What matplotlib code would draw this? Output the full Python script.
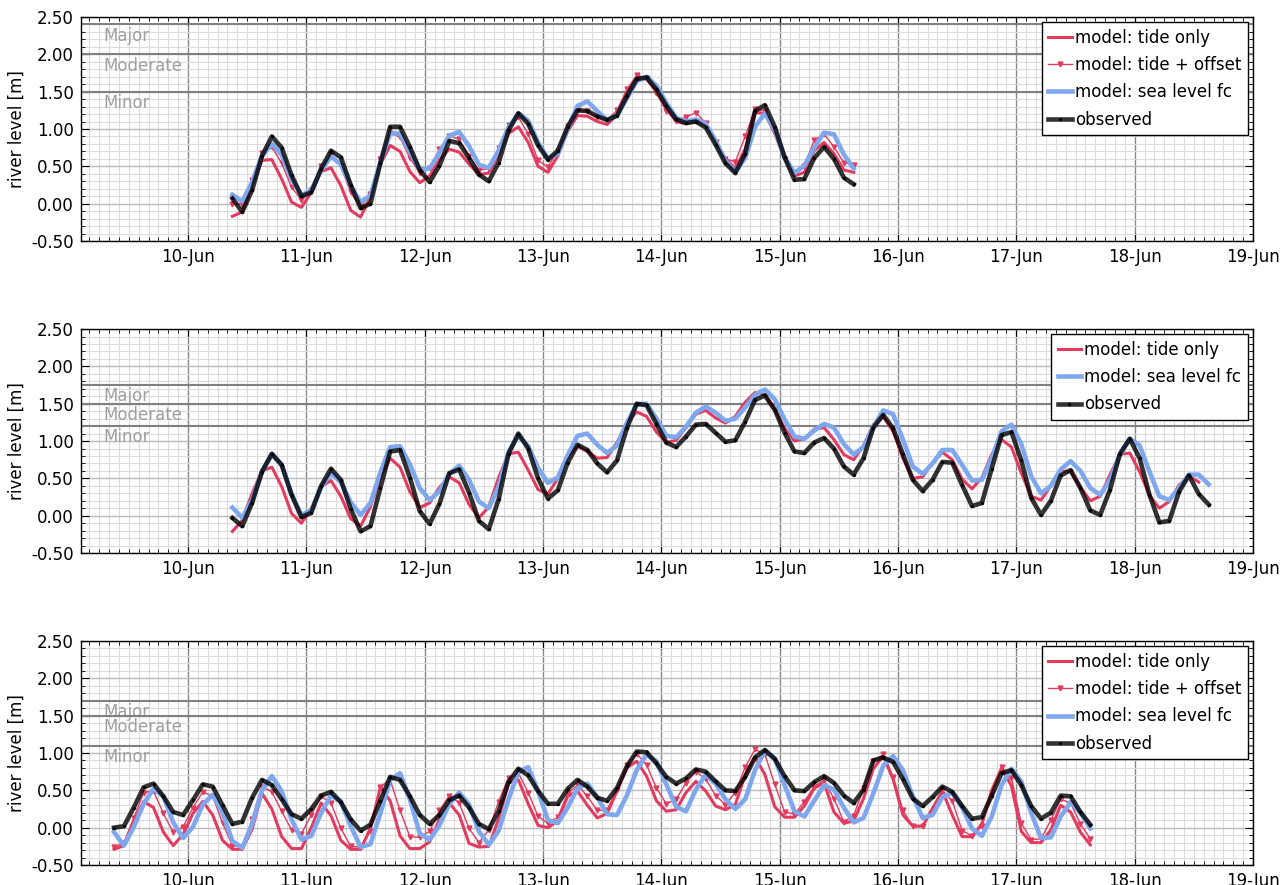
import numpy as np
import pandas as pd
import matplotlib
matplotlib.use('Agg')
import matplotlib.pyplot as plt
import matplotlib.dates as mdates
from matplotlib.ticker import MultipleLocator, FormatStrFormatter

base = pd.Timestamp('2021-06-10 00:00')

# ---- panel 1 (2-hourly, first value at 10-Jun 09:00)
p1_start = 9
p1_tide = [-0.17, -0.11, 0.25, 0.58, 0.59, 0.33, 0.02, -0.05, 0.15, 0.43, 0.48, 0.24, -0.09, -0.18, 0.09, 0.53,
           0.78, 0.70, 0.43, 0.28, 0.37, 0.59, 0.73, 0.69, 0.53, 0.39, 0.41, 0.66, 0.94, 1.03, 0.82, 0.50,
           0.42, 0.64, 0.97, 1.18, 1.17, 1.10, 1.06, 1.19, 1.48, 1.68, 1.67, 1.50, 1.28, 1.10, 1.07, 1.10,
           1.05, 0.84, 0.60, 0.47, 0.73, 1.22, 1.21, 0.94, 0.60, 0.37, 0.42, 0.71, 0.82, 0.67, 0.45, 0.42]
p1_offset = [-0.01, 0.00, 0.32, 0.68, 0.76, 0.54, 0.22, 0.05, 0.18, 0.50, 0.66, 0.50, 0.15, -0.05, 0.13, 0.60,
             0.95, 0.89, 0.61, 0.41, 0.48, 0.73, 0.91, 0.86, 0.64, 0.45, 0.47, 0.75, 1.06, 1.16, 0.93, 0.58,
             0.49, 0.71, 1.04, 1.25, 1.24, 1.16, 1.12, 1.25, 1.53, 1.72, 1.68, 1.48, 1.24, 1.11, 1.16, 1.22,
             1.08, 0.82, 0.60, 0.56, 0.90, 1.27, 1.24, 0.96, 0.60, 0.40, 0.51, 0.85, 0.93, 0.76, 0.55, 0.52]
p1_sea = [0.12, 0.03, 0.29, 0.64, 0.80, 0.65, 0.33, 0.11, 0.18, 0.45, 0.63, 0.53, 0.24, 0.02, 0.11, 0.55,
          0.94, 0.94, 0.69, 0.46, 0.47, 0.68, 0.91, 0.96, 0.77, 0.52, 0.48, 0.71, 1.02, 1.21, 1.11, 0.82,
          0.60, 0.67, 1.00, 1.31, 1.37, 1.24, 1.12, 1.18, 1.41, 1.64, 1.70, 1.58, 1.35, 1.15, 1.10, 1.13,
          1.07, 0.84, 0.57, 0.43, 0.61, 1.03, 1.21, 0.99, 0.62, 0.41, 0.51, 0.75, 0.95, 0.93, 0.66, 0.47]
p1_obs = [0.07, -0.11, 0.18, 0.64, 0.90, 0.75, 0.38, 0.10, 0.15, 0.47, 0.71, 0.62, 0.25, -0.06, 0.00, 0.54,
          1.03, 1.03, 0.76, 0.45, 0.29, 0.51, 0.84, 0.81, 0.61, 0.39, 0.30, 0.55, 0.98, 1.21, 1.07, 0.78,
          0.59, 0.71, 1.03, 1.25, 1.24, 1.17, 1.12, 1.18, 1.44, 1.67, 1.69, 1.53, 1.31, 1.13, 1.08, 1.10,
          1.02, 0.79, 0.54, 0.41, 0.67, 1.24, 1.32, 1.03, 0.62, 0.32, 0.33, 0.61, 0.76, 0.60, 0.35, 0.26]
p1_levels = [2.40, 2.00, 1.50]

# ---- panel 2 (2-hourly, first value at 10-Jun 09:00)
p2_start = 9
p2_tide = [-0.21, -0.06, 0.30, 0.60, 0.65, 0.39, 0.03, -0.10, 0.10, 0.39,
           0.47, 0.26, -0.04, -0.14, 0.12, 0.52, 0.77, 0.65, 0.32, 0.11,
           0.17, 0.38, 0.52, 0.44, 0.15, -0.03, 0.12, 0.51, 0.83, 0.85,
           0.61, 0.35, 0.29, 0.50, 0.80, 0.93, 0.86, 0.77, 0.78, 0.98,
           1.24, 1.39, 1.33, 1.12, 0.98, 1.01, 1.18, 1.36, 1.41, 1.31,
           1.24, 1.33, 1.52, 1.65, 1.62, 1.42, 1.17, 1.00, 1.03, 1.16,
           1.18, 1.02, 0.82, 0.75, 0.94, 1.22, 1.33, 1.13, 0.77, 0.50,
           0.52, 0.71, 0.85, 0.75, 0.49, 0.36, 0.51, 0.82, 1.02, 0.92,
           0.57, 0.26, 0.21, 0.40, 0.60, 0.59, 0.38, 0.20, 0.26, 0.55,
           0.82, 0.84, 0.59, 0.27, 0.10, 0.19, 0.41, 0.53, 0.45, np.nan]
p2_sea = [0.11, -0.03, 0.21, 0.59, 0.82, 0.68, 0.29, 0.01, 0.07, 0.38,
          0.57, 0.45, 0.18, 0.01, 0.17, 0.58, 0.92, 0.93, 0.69, 0.37,
          0.21, 0.33, 0.56, 0.67, 0.48, 0.19, 0.10, 0.39, 0.85, 1.07,
          0.93, 0.64, 0.44, 0.51, 0.81, 1.07, 1.10, 0.95, 0.84, 0.94,
          1.24, 1.49, 1.50, 1.30, 1.07, 1.05, 1.19, 1.38, 1.46, 1.38,
          1.27, 1.30, 1.45, 1.62, 1.69, 1.56, 1.29, 1.06, 1.03, 1.14,
          1.23, 1.18, 0.96, 0.82, 0.92, 1.19, 1.41, 1.36, 1.02, 0.66,
          0.56, 0.70, 0.88, 0.88, 0.68, 0.47, 0.48, 0.77, 1.13, 1.22,
          0.96, 0.53, 0.30, 0.40, 0.62, 0.73, 0.60, 0.37, 0.28, 0.48,
          0.81, 1.03, 0.94, 0.59, 0.26, 0.21, 0.37, 0.55, 0.55, 0.42]
p2_obs = [-0.03, -0.14, 0.17, 0.59, 0.83, 0.68, 0.28, -0.02, 0.04, 0.40,
          0.63, 0.48, 0.09, -0.21, -0.14, 0.37, 0.86, 0.88, 0.51, 0.06,
          -0.11, 0.16, 0.57, 0.62, 0.31, -0.07, -0.18, 0.22, 0.83, 1.10,
          0.90, 0.50, 0.23, 0.34, 0.71, 0.95, 0.88, 0.70, 0.58, 0.74,
          1.17, 1.50, 1.48, 1.23, 0.98, 0.92, 1.06, 1.22, 1.23, 1.11,
          0.99, 1.01, 1.26, 1.55, 1.61, 1.42, 1.11, 0.86, 0.84, 0.98,
          1.04, 0.90, 0.66, 0.55, 0.77, 1.18, 1.35, 1.17, 0.82, 0.48,
          0.33, 0.48, 0.72, 0.71, 0.41, 0.13, 0.17, 0.63, 1.08, 1.12,
          0.74, 0.24, 0.01, 0.20, 0.54, 0.61, 0.37, 0.07, 0.01, 0.35,
          0.83, 1.03, 0.77, 0.28, -0.09, -0.07, 0.32, 0.54, 0.29, 0.15]
p2_levels = [1.75, 1.50, 1.20]

# ---- panel 3 (2-hourly, first value at 09-Jun 09:00)
p3_start = -15
p3_tide = [-0.29, -0.24, 0.08, 0.35, 0.27, -0.06, -0.24, -0.09, 0.19, 0.35,
           0.17, -0.17, -0.29, -0.29, -0.02, 0.46, 0.25, -0.12, -0.28, -0.28,
           0.00, 0.33, 0.16, -0.17, -0.29, -0.29, -0.01, 0.54, 0.36, -0.11,
           -0.28, -0.28, -0.19, 0.11, 0.33, 0.17, -0.21, -0.26, -0.25, 0.12,
           0.60, 0.64, 0.32, 0.03, 0.00, 0.09, 0.42, 0.49, 0.30, 0.13,
           0.19, 0.49, 0.80, 0.89, 0.69, 0.36, 0.22, 0.24, 0.47, 0.62,
           0.49, 0.29, 0.24, 0.31, 0.71, 0.95, 0.71, 0.28, 0.14, 0.14,
           0.29, 0.53, 0.60, 0.21, 0.06, 0.09, 0.39, 0.79, 0.96, 0.65,
           0.17, 0.02, 0.02, 0.26, 0.49, 0.17, -0.12, -0.12, 0.05, 0.50,
           0.80, 0.56, -0.05, -0.20, -0.20, -0.03, 0.30, 0.21, -0.06, -0.23]
p3_offset = [-0.26, -0.20, 0.13, 0.47, 0.49, 0.19, -0.06, 0.01, 0.27, 0.48,
             0.42, 0.06, -0.24, -0.26, 0.12, 0.55, 0.48, 0.22, -0.03, -0.08,
             0.17, 0.42, 0.33, -0.01, -0.25, -0.26, -0.04, 0.55, 0.64, 0.23,
             -0.12, -0.13, -0.05, 0.23, 0.43, 0.33, -0.01, -0.20, -0.03, 0.35,
             0.67, 0.73, 0.47, 0.15, 0.06, 0.14, 0.46, 0.57, 0.42, 0.23,
             0.24, 0.51, 0.84, 0.99, 0.84, 0.53, 0.32, 0.38, 0.60, 0.75,
             0.65, 0.43, 0.31, 0.47, 0.81, 1.05, 0.98, 0.58, 0.21, 0.18,
             0.35, 0.55, 0.64, 0.39, 0.08, 0.16, 0.53, 0.89, 0.98, 0.68,
             0.23, 0.02, 0.02, 0.22, 0.50, 0.36, -0.04, -0.11, 0.02, 0.46,
             0.81, 0.67, 0.06, -0.16, -0.15, 0.10, 0.38, 0.33, 0.05, -0.15]
p3_sea = [-0.06, -0.24, 0.01, 0.32, 0.52, 0.42, 0.07, -0.14, 0.01, 0.31,
          0.44, 0.20, -0.18, -0.27, 0.05, 0.50, 0.69, 0.49, 0.11, -0.16,
          -0.11, 0.20, 0.43, 0.35, 0.02, -0.26, -0.22, 0.19, 0.64, 0.73,
          0.38, -0.08, -0.16, 0.03, 0.32, 0.47, 0.31, -0.05, -0.23, -0.04,
          0.38, 0.75, 0.81, 0.49, 0.10, 0.06, 0.27, 0.53, 0.59, 0.41,
          0.18, 0.17, 0.43, 0.77, 0.98, 0.89, 0.58, 0.28, 0.22, 0.51,
          0.71, 0.59, 0.38, 0.25, 0.38, 0.77, 1.03, 0.93, 0.57, 0.22,
          0.15, 0.36, 0.57, 0.51, 0.27, 0.07, 0.13, 0.46, 0.83, 0.96,
          0.77, 0.42, 0.13, 0.17, 0.41, 0.47, 0.27, -0.01, -0.11, 0.15,
          0.57, 0.79, 0.62, 0.20, -0.14, -0.13, 0.15, 0.34, 0.20, -0.01]
p3_obs = [0.00, 0.02, 0.27, 0.54, 0.59, 0.42, 0.21, 0.17, 0.37, 0.58,
          0.55, 0.30, 0.05, 0.08, 0.40, 0.64, 0.57, 0.38, 0.18, 0.12,
          0.25, 0.43, 0.48, 0.34, 0.11, -0.04, 0.04, 0.36, 0.68, 0.64,
          0.42, 0.17, 0.05, 0.17, 0.37, 0.43, 0.27, 0.05, -0.02, 0.22,
          0.61, 0.79, 0.70, 0.49, 0.32, 0.32, 0.52, 0.64, 0.55, 0.40,
          0.36, 0.53, 0.82, 1.02, 1.01, 0.86, 0.68, 0.59, 0.66, 0.78,
          0.75, 0.62, 0.50, 0.49, 0.68, 0.94, 1.04, 0.92, 0.69, 0.50,
          0.49, 0.61, 0.69, 0.60, 0.43, 0.33, 0.51, 0.90, 0.94, 0.88,
          0.65, 0.39, 0.29, 0.41, 0.55, 0.48, 0.29, 0.12, 0.14, 0.43,
          0.73, 0.77, 0.57, 0.29, 0.12, 0.20, 0.43, 0.42, 0.21, 0.04]
p3_levels = [1.70, 1.50, 1.10]

level_names = ['Major', 'Moderate', 'Minor']

red = '#e23b5f'
blue = '#7ea7ee'


def time_axis(start_hour, n):
    return pd.date_range(base + pd.Timedelta(hours=start_hour), periods=n, freq='2h')


def draw_panel(ax, start_hour, tide, offset, sea, obs, levels):
    t = time_axis(start_hour, len(tide))
    ax.plot(t, tide, color=red, lw=2.2, label='model: tide only', zorder=3)
    if offset is not None:
        ax.plot(t, offset, color=red, lw=1.0, marker='v', ms=3.5, label='model: tide + offset', zorder=3)
    ax.plot(t, sea, color=blue, lw=3.3, label='model: sea level fc', zorder=3)
    ax.plot(t, obs, color='k', alpha=0.8, lw=3.3, marker='.', ms=3, label='observed', zorder=4)

    # flood levels
    for lev, name in zip(levels, level_names):
        ax.axhline(lev, color='#808080', lw=1.5, zorder=2)
        ax.text(base - pd.Timedelta(hours=17.2), lev - 0.03, name, color='#a0a0a0',
                fontsize=12, va='top', ha='left', zorder=2)

    ax.set_xlim(base - pd.Timedelta(hours=21.7), base + pd.Timedelta(days=9))
    ax.set_ylim(-0.5, 2.5)
    ax.xaxis.set_major_locator(mdates.DayLocator())
    ax.xaxis.set_major_formatter(mdates.DateFormatter('%d-%b'))
    ax.xaxis.set_minor_locator(mdates.HourLocator(byhour=range(0, 24, 2)))
    ax.yaxis.set_major_locator(MultipleLocator(0.5))
    ax.yaxis.set_minor_locator(MultipleLocator(0.1))
    ax.yaxis.set_major_formatter(FormatStrFormatter('%.2f'))

    ax.set_axisbelow(True)
    ax.grid(which='minor', color='#dcdcdc', lw=0.8)
    ax.grid(which='major', axis='y', color='#bababa', lw=1.0)
    ax.grid(which='major', axis='x', color='#888888', lw=1.0)

    ax.tick_params(which='both', direction='in', top=True, right=True, labelsize=12, pad=5)
    ax.tick_params(which='major', length=6)
    ax.tick_params(which='minor', length=3)
    for s in ax.spines.values():
        s.set_linewidth(1.0)
    ax.set_ylabel('river level [m]', fontsize=12)

    leg = ax.legend(loc='upper right', fancybox=False, edgecolor='k', framealpha=1, fontsize=12,
                    handlelength=1.4, handletextpad=0.2, borderaxespad=0.3, borderpad=0.4,
                    labelspacing=0.56)
    leg.get_frame().set_linewidth(1.0)
    leg.set_zorder(10)


def main():
    fig = plt.figure(figsize=(12.82, 8.85), dpi=100, facecolor='w')
    ax1 = fig.add_axes([0.0632, 0.7277, 0.9142, 0.2531])
    ax2 = fig.add_axes([0.0632, 0.3751, 0.9142, 0.2531])
    ax3 = fig.add_axes([0.0632, 0.0226, 0.9142, 0.2531])

    draw_panel(ax1, p1_start, p1_tide, p1_offset, p1_sea, p1_obs, p1_levels)
    draw_panel(ax2, p2_start, p2_tide, None, p2_sea, p2_obs, p2_levels)
    draw_panel(ax3, p3_start, p3_tide, p3_offset, p3_sea, p3_obs, p3_levels)

    fig.savefig('out.png', dpi=100)


if __name__ == '__main__':
    main()
